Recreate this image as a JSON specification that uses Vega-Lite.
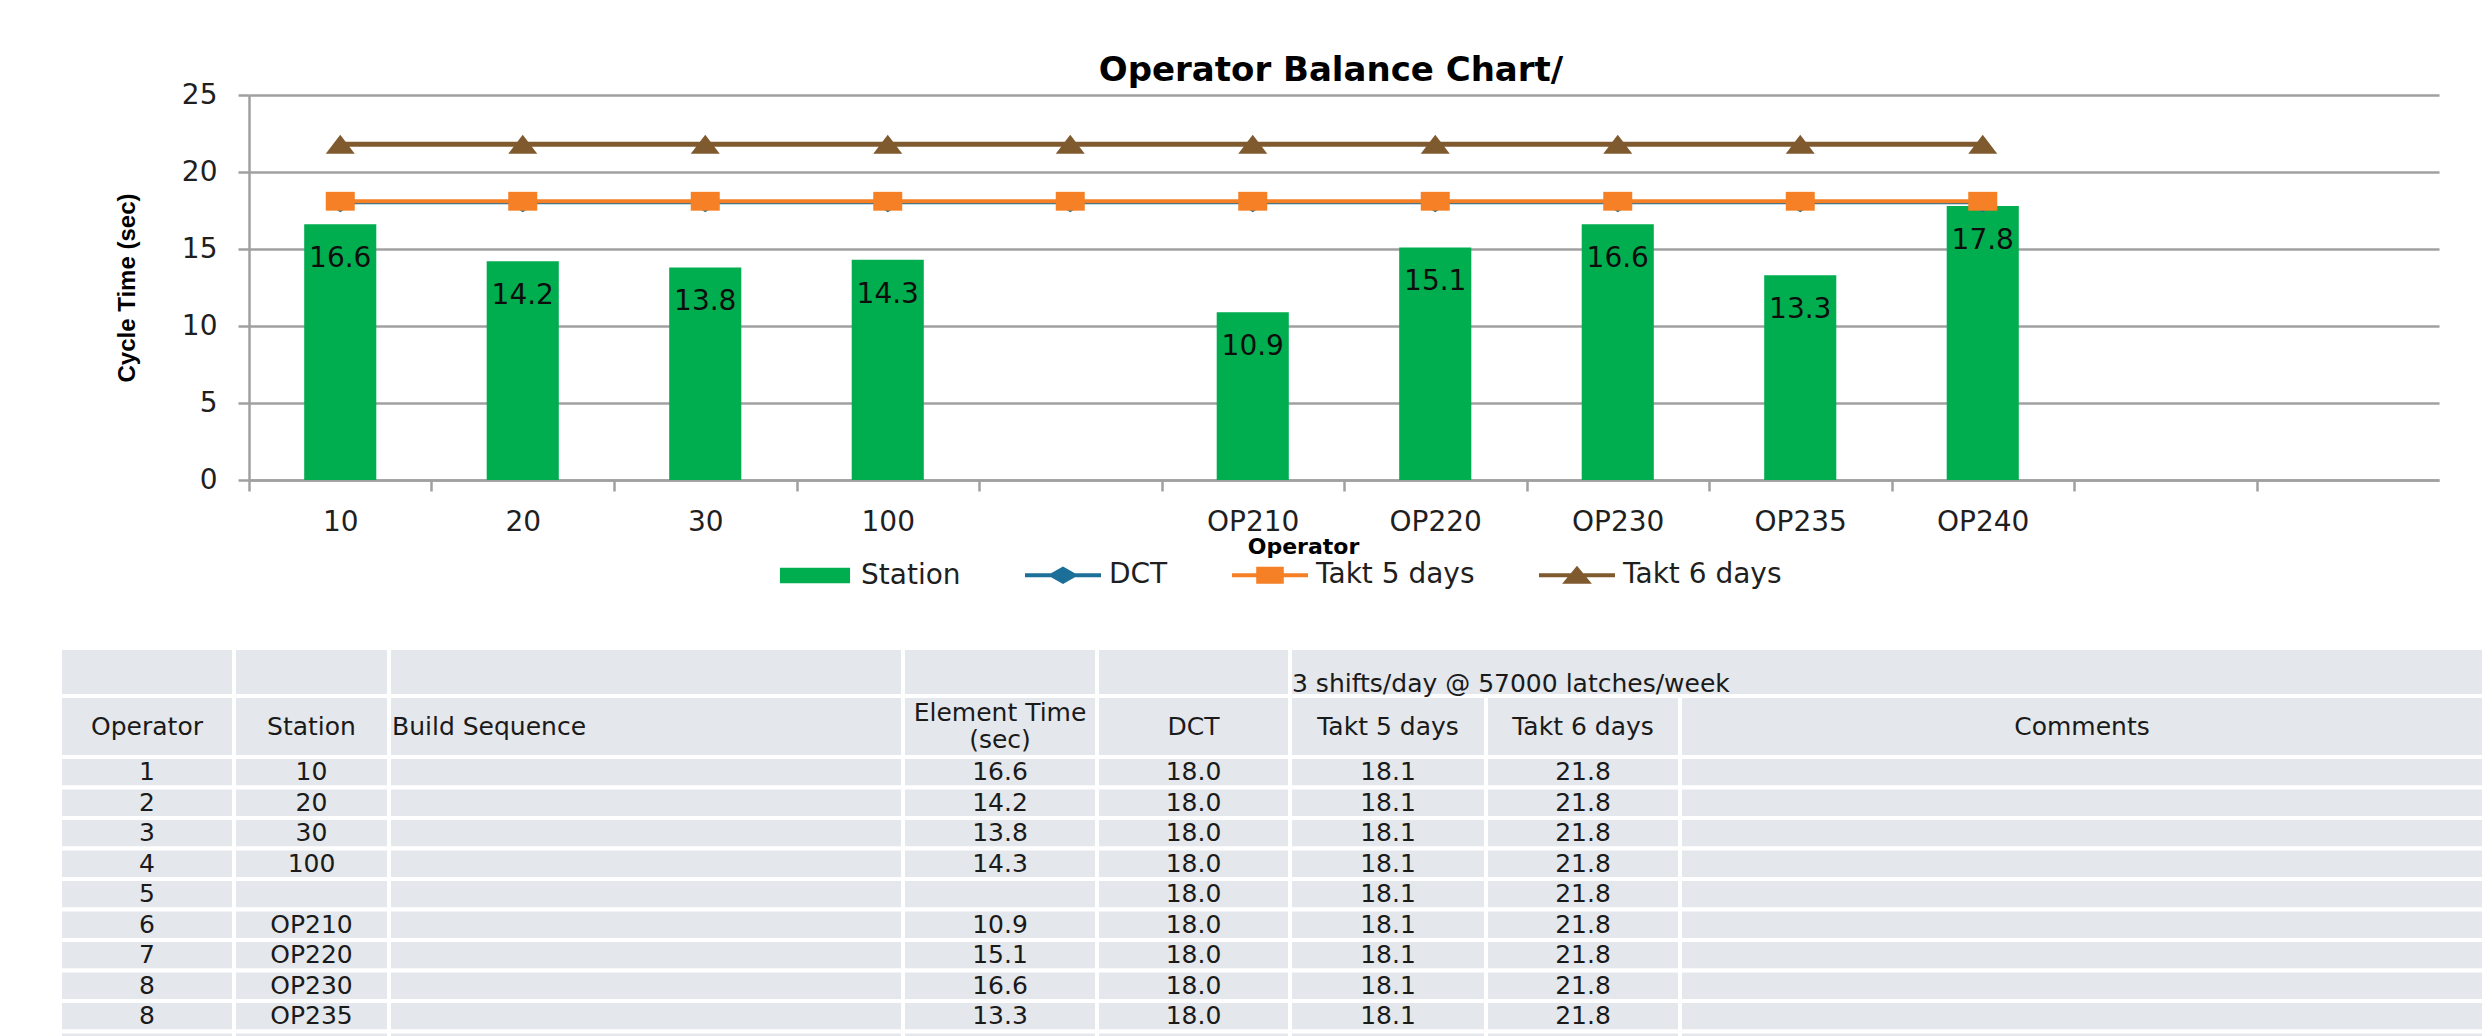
{
  "$schema": "https://vega.github.io/schema/vega-lite/v6.json",
  "background": "white",
  "padding": {"left": 58, "top": 54, "right": 6, "bottom": 0},
  "bounds": "flush",
  "spacing": 168,
  "config": {"view": {"stroke": null}, "legend": {"padding": 0}},
  "datasets": {
    "chart": [
      {"station": "10", "time": 16.6, "DCT": 18.0, "Takt 5 days": 18.1, "Takt 6 days": 21.8},
      {"station": "20", "time": 14.2, "DCT": 18.0, "Takt 5 days": 18.1, "Takt 6 days": 21.8},
      {"station": "30", "time": 13.8, "DCT": 18.0, "Takt 5 days": 18.1, "Takt 6 days": 21.8},
      {"station": "100", "time": 14.3, "DCT": 18.0, "Takt 5 days": 18.1, "Takt 6 days": 21.8},
      {"station": " ", "time": null, "DCT": 18.0, "Takt 5 days": 18.1, "Takt 6 days": 21.8},
      {"station": "OP210", "time": 10.9, "DCT": 18.0, "Takt 5 days": 18.1, "Takt 6 days": 21.8},
      {"station": "OP220", "time": 15.1, "DCT": 18.0, "Takt 5 days": 18.1, "Takt 6 days": 21.8},
      {"station": "OP230", "time": 16.6, "DCT": 18.0, "Takt 5 days": 18.1, "Takt 6 days": 21.8},
      {"station": "OP235", "time": 13.3, "DCT": 18.0, "Takt 5 days": 18.1, "Takt 6 days": 21.8},
      {"station": "OP240", "time": 17.8, "DCT": 18.0, "Takt 5 days": 18.1, "Takt 6 days": 21.8}
    ],
    "cols": [
      {"key": "Operator", "c0": 0, "c1": 1, "cm": 0.5},
      {"key": "Station", "c0": 1, "c1": 2, "cm": 1.5},
      {"key": "Build Sequence", "c0": 2, "c1": 3, "cm": 2.5},
      {"key": "Element Time", "c0": 3, "c1": 4, "cm": 3.5},
      {"key": "DCT", "c0": 4, "c1": 5, "cm": 4.5},
      {"key": "Takt 5 days", "c0": 5, "c1": 6, "cm": 5.5},
      {"key": "Takt 6 days", "c0": 6, "c1": 7, "cm": 6.5},
      {"key": "Comments", "c0": 7, "c1": 8, "cm": 7.5}
    ],
    "head1": [
      {"r0": 0, "r1": 1, "rm": 0.5, "c0": 0, "c1": 1, "text": ""},
      {"r0": 0, "r1": 1, "rm": 0.5, "c0": 1, "c1": 2, "text": ""},
      {"r0": 0, "r1": 1, "rm": 0.5, "c0": 2, "c1": 3, "text": ""},
      {"r0": 0, "r1": 1, "rm": 0.5, "c0": 3, "c1": 4, "text": ""},
      {"r0": 0, "r1": 1, "rm": 0.5, "c0": 4, "c1": 5, "text": ""},
      {"r0": 0, "r1": 1, "rm": 0.5, "c0": 5, "c1": 8, "text": "3 shifts/day @ 57000 latches/week"}
    ],
    "table": [
      {"r0": 1, "r1": 2, "rm": 1.5, "Operator": "Operator", "Station": "Station", "Build Sequence": "Build Sequence", "Element Time": "Element Time\n(sec)", "DCT": "DCT", "Takt 5 days": "Takt 5 days", "Takt 6 days": "Takt 6 days", "Comments": "Comments"},
      {"r0": 2, "r1": 3, "rm": 2.5, "Operator": "1", "Station": "10", "Build Sequence": "", "Element Time": "16.6", "DCT": "18.0", "Takt 5 days": "18.1", "Takt 6 days": "21.8", "Comments": ""},
      {"r0": 3, "r1": 4, "rm": 3.5, "Operator": "2", "Station": "20", "Build Sequence": "", "Element Time": "14.2", "DCT": "18.0", "Takt 5 days": "18.1", "Takt 6 days": "21.8", "Comments": ""},
      {"r0": 4, "r1": 5, "rm": 4.5, "Operator": "3", "Station": "30", "Build Sequence": "", "Element Time": "13.8", "DCT": "18.0", "Takt 5 days": "18.1", "Takt 6 days": "21.8", "Comments": ""},
      {"r0": 5, "r1": 6, "rm": 5.5, "Operator": "4", "Station": "100", "Build Sequence": "", "Element Time": "14.3", "DCT": "18.0", "Takt 5 days": "18.1", "Takt 6 days": "21.8", "Comments": ""},
      {"r0": 6, "r1": 7, "rm": 6.5, "Operator": "5", "Station": "", "Build Sequence": "", "Element Time": "", "DCT": "18.0", "Takt 5 days": "18.1", "Takt 6 days": "21.8", "Comments": ""},
      {"r0": 7, "r1": 8, "rm": 7.5, "Operator": "6", "Station": "OP210", "Build Sequence": "", "Element Time": "10.9", "DCT": "18.0", "Takt 5 days": "18.1", "Takt 6 days": "21.8", "Comments": ""},
      {"r0": 8, "r1": 9, "rm": 8.5, "Operator": "7", "Station": "OP220", "Build Sequence": "", "Element Time": "15.1", "DCT": "18.0", "Takt 5 days": "18.1", "Takt 6 days": "21.8", "Comments": ""},
      {"r0": 9, "r1": 10, "rm": 9.5, "Operator": "8", "Station": "OP230", "Build Sequence": "", "Element Time": "16.6", "DCT": "18.0", "Takt 5 days": "18.1", "Takt 6 days": "21.8", "Comments": ""},
      {"r0": 10, "r1": 11, "rm": 10.5, "Operator": "8", "Station": "OP235", "Build Sequence": "", "Element Time": "13.3", "DCT": "18.0", "Takt 5 days": "18.1", "Takt 6 days": "21.8", "Comments": ""},
      {"r0": 11, "r1": 12, "rm": 11.5, "Operator": "", "Station": "", "Build Sequence": "", "Element Time": "", "DCT": "", "Takt 5 days": "", "Takt 6 days": "", "Comments": ""}
    ]
  },
  "vconcat": [
    {
      "width": 2190,
      "height": 385,
      "title": {"text": "Operator Balance Chart/", "font": "DejaVu Sans", "fontSize": 34, "fontWeight": "bold", "color": "#000000", "frame": "group", "baseline": "alphabetic", "offset": -34, "dx": -13},
      "data": {"name": "chart"},
      "layer": [
        {
          "mark": {"type": "bar", "color": "#00AD4F"},
          "encoding": {
            "x": {"field": "station", "type": "nominal", "sort": null, "title": "Operator",
              "scale": {"type": "band", "domain": ["10", "20", "30", "100", " ", "OP210", "OP220", "OP230", "OP235", "OP240", "  ", "   "], "paddingInner": 0.605, "paddingOuter": 0.3025},
              "axis": {"labelFont": "DejaVu Sans", "labelFontSize": 28, "labelColor": "#1F1F1F", "labelAngle": 0, "labelPadding": 17,
                "tickOffset": -91.25, "labelOffset": 91.25, "ticks": true, "tickSize": 11, "tickColor": "#A0A0A0", "tickWidth": 2.5,
                "domainColor": "#A0A0A0", "domainWidth": 2.5, "grid": false,
                "titleFont": "DejaVu Sans", "titleFontSize": 22, "titleFontWeight": "bold", "titleColor": "#000000", "titlePadding": 0, "titleX": 1054}},
            "y": {"field": "time", "type": "quantitative", "title": "Cycle Time (sec)",
              "scale": {"domain": [0, 25], "nice": false, "zero": true},
              "axis": {"values": [0, 5, 10, 15, 20, 25], "grid": true, "gridColor": "#A0A0A0", "gridWidth": 2.5,
                "domainColor": "#A0A0A0", "domainWidth": 2.5, "ticks": true, "tickSize": 11, "tickColor": "#A0A0A0", "tickWidth": 2.5,
                "labelFont": "DejaVu Sans", "labelFontSize": 28, "labelColor": "#1F1F1F", "labelPadding": 21,
                "titleFont": "Liberation Sans", "titleFontSize": 24, "titleFontWeight": "bold", "titleColor": "#000000", "titlePadding": 42}}
          }
        },
        {
          "transform": [{"filter": "datum.time != null"}],
          "mark": {"type": "text", "font": "DejaVu Sans", "fontSize": 28, "color": "#0D0D0D", "baseline": "middle", "dy": 35},
          "encoding": {
            "x": {"field": "station", "type": "nominal", "sort": null, "title": "Operator"},
            "y": {"field": "time", "type": "quantitative", "title": "Cycle Time (sec)"},
            "text": {"field": "time", "type": "quantitative", "format": ".1f"}
          }
        },
        {
          "mark": {"type": "line", "color": "#1B6F98", "strokeWidth": 3},
          "encoding": {
            "x": {"field": "station", "type": "nominal", "sort": null, "title": "Operator"},
            "y": {"field": "DCT", "type": "quantitative", "title": "Cycle Time (sec)"}
          }
        },
        {
          "mark": {"type": "line", "color": "#F58025", "strokeWidth": 4},
          "encoding": {
            "x": {"field": "station", "type": "nominal", "sort": null, "title": "Operator"},
            "y": {"field": "Takt 5 days", "type": "quantitative", "title": "Cycle Time (sec)"}
          }
        },
        {
          "mark": {"type": "line", "color": "#7F5A2E", "strokeWidth": 5},
          "encoding": {
            "x": {"field": "station", "type": "nominal", "sort": null, "title": "Operator"},
            "y": {"field": "Takt 6 days", "type": "quantitative", "title": "Cycle Time (sec)"}
          }
        },
        {
          "mark": {"type": "point", "filled": true, "opacity": 1, "size": 841, "shape": "M-1,0L0,-0.65L1,0L0,0.65Z", "color": "#1B6F98"},
          "encoding": {
            "x": {"field": "station", "type": "nominal", "sort": null, "title": "Operator"},
            "y": {"field": "DCT", "type": "quantitative", "title": "Cycle Time (sec)"}
          }
        },
        {
          "mark": {"type": "point", "filled": true, "opacity": 1, "size": 841, "shape": "M-1,-0.65H1V0.65H-1Z", "color": "#F58025"},
          "encoding": {
            "x": {"field": "station", "type": "nominal", "sort": null, "title": "Operator"},
            "y": {"field": "Takt 5 days", "type": "quantitative", "title": "Cycle Time (sec)"}
          }
        },
        {
          "mark": {"type": "point", "filled": true, "opacity": 1, "size": 841, "shape": "M-1,0.65L0,-0.65L1,0.65Z", "color": "#7F5A2E"},
          "encoding": {
            "x": {"field": "station", "type": "nominal", "sort": null, "title": "Operator"},
            "y": {"field": "Takt 6 days", "type": "quantitative", "title": "Cycle Time (sec)"}
          }
        },
        {
          "transform": [
            {"fold": ["DCT", "Takt 5 days", "Takt 6 days"], "as": ["key", "value"]},
            {"filter": "datum.key === 'Station'"}
          ],
          "mark": {"type": "point", "filled": true, "opacity": 1, "strokeWidth": 4},
          "encoding": {
            "x": {"field": "station", "type": "nominal", "sort": null, "title": "Operator"},
            "y": {"field": "value", "type": "quantitative", "title": "Cycle Time (sec)"},
            "color": {"field": "key", "type": "nominal",
              "scale": {"domain": ["Station", "DCT", "Takt 5 days", "Takt 6 days"], "range": ["#00AD4F", "#1B6F98", "#F58025", "#7F5A2E"]},
              "legend": {"orient": "none", "legendX": 526, "legendY": 440, "direction": "horizontal", "columns": 4, "title": null,
                "labelFont": "DejaVu Sans", "labelFontSize": 28, "labelColor": "#1F1F1F", "symbolSize": 5776, "symbolStrokeWidth": 4, "symbolOpacity": 1, "labelOffset": 6, "columnPadding": 56, "padding": 0}},
            "stroke": {"field": "key", "type": "nominal",
              "scale": {"domain": ["Station", "DCT", "Takt 5 days", "Takt 6 days"], "range": ["#00AD4F", "#1B6F98", "#F58025", "#7F5A2E"]},
              "legend": {"orient": "none", "legendX": 526, "legendY": 440, "direction": "horizontal", "columns": 4, "title": null,
                "labelFont": "DejaVu Sans", "labelFontSize": 28, "labelColor": "#1F1F1F", "symbolSize": 5776, "symbolStrokeWidth": 4, "symbolOpacity": 1, "labelOffset": 6, "columnPadding": 56, "padding": 0}},
            "shape": {"field": "key", "type": "nominal",
              "scale": {"domain": ["Station", "DCT", "Takt 5 days", "Takt 6 days"], "range": ["M-0.87,-0.15H0.87V0.15H-0.87Z", "M-1,0H1M-0.3,0L0,-0.17L0.3,0L0,0.17Z", "M-1,0H1M-0.31,-0.17H0.31V0.17H-0.31Z", "M-1,0H1M-0.28,0.17L0,-0.17L0.28,0.17Z"]},
              "legend": {"orient": "none", "legendX": 526, "legendY": 440, "direction": "horizontal", "columns": 4, "title": null,
                "labelFont": "DejaVu Sans", "labelFontSize": 28, "labelColor": "#1F1F1F", "symbolSize": 5776, "symbolStrokeWidth": 4, "symbolOpacity": 1, "labelOffset": 6, "columnPadding": 56, "padding": 0}}
          }
        }
      ]
    },
    {
      "width": 2235,
      "height": 414,
      "layer": [
        {
          "data": {"name": "table"},
          "transform": [
            {"fold": ["Operator", "Station", "Build Sequence", "Element Time", "DCT", "Takt 5 days", "Takt 6 days", "Comments"], "as": ["key", "value"]},
            {"lookup": "key", "from": {"data": {"name": "cols"}, "key": "key", "fields": ["c0", "c1", "cm"]}}
          ],
          "mark": {"type": "rect", "fill": "#E4E7EC", "stroke": "#FFFFFF", "strokeWidth": 4},
          "encoding": {
            "x": {"field": "c0", "type": "quantitative", "axis": null, "scale": {"domain": [0, 1, 2, 3, 4, 5, 6, 7, 8], "range": [-189, -15, 140, 654, 848, 1041, 1237, 1431, 2235], "zero": false, "nice": false}},
            "x2": {"field": "c1"},
            "y": {"field": "r0", "type": "quantitative", "axis": null, "scale": {"domain": [0, 1, 2, 3, 4, 5, 6, 7, 8, 9, 10, 11, 12], "range": [0, 48, 109, 139.5, 170, 200.5, 231, 261.5, 292, 322.5, 353, 383.5, 414], "zero": false, "nice": false}},
            "y2": {"field": "r1"}
          }
        },
        {
          "data": {"name": "head1"},
          "mark": {"type": "rect", "fill": "#E4E7EC", "stroke": "#FFFFFF", "strokeWidth": 4},
          "encoding": {
            "x": {"field": "c0", "type": "quantitative", "axis": null},
            "x2": {"field": "c1"},
            "y": {"field": "r0", "type": "quantitative", "axis": null},
            "y2": {"field": "r1"}
          }
        },
        {
          "data": {"name": "head1"},
          "transform": [{"filter": "datum.text !== ''"}],
          "mark": {"type": "text", "font": "DejaVu Sans", "fontSize": 25, "color": "#1A1A1A", "align": "left", "baseline": "middle", "dx": 2, "dy": 12},
          "encoding": {
            "x": {"field": "c0", "type": "quantitative", "axis": null},
            "y": {"field": "rm", "type": "quantitative", "axis": null},
            "text": {"field": "text", "type": "nominal"}
          }
        },
        {
          "data": {"name": "table"},
          "transform": [
            {"fold": ["Operator", "Station", "Element Time", "DCT", "Takt 5 days", "Takt 6 days", "Comments"], "as": ["key", "value"]},
            {"lookup": "key", "from": {"data": {"name": "cols"}, "key": "key", "fields": ["c0", "c1", "cm"]}},
            {"filter": "datum.value !== '' && !(datum.r0 === 1 && datum.key === 'Element Time')"}
          ],
          "mark": {"type": "text", "font": "DejaVu Sans", "fontSize": 25, "color": "#1A1A1A", "align": "center", "baseline": "middle"},
          "encoding": {
            "x": {"field": "cm", "type": "quantitative", "axis": null},
            "y": {"field": "rm", "type": "quantitative", "axis": null},
            "text": {"field": "value", "type": "nominal"}
          }
        },
        {
          "data": {"name": "table"},
          "transform": [
            {"filter": "datum.r0 === 1"},
            {"fold": ["Element Time"], "as": ["key", "value"]},
            {"lookup": "key", "from": {"data": {"name": "cols"}, "key": "key", "fields": ["c0", "c1", "cm"]}}
          ],
          "mark": {"type": "text", "font": "DejaVu Sans", "fontSize": 25, "color": "#1A1A1A", "align": "center", "baseline": "middle", "lineBreak": "\n", "lineHeight": 27, "dy": -13.5},
          "encoding": {
            "x": {"field": "cm", "type": "quantitative", "axis": null},
            "y": {"field": "rm", "type": "quantitative", "axis": null},
            "text": {"field": "value", "type": "nominal"}
          }
        },
        {
          "data": {"name": "table"},
          "transform": [
            {"fold": ["Build Sequence"], "as": ["key", "value"]},
            {"lookup": "key", "from": {"data": {"name": "cols"}, "key": "key", "fields": ["c0", "c1", "cm"]}},
            {"filter": "datum.value !== ''"}
          ],
          "mark": {"type": "text", "font": "DejaVu Sans", "fontSize": 25, "color": "#1A1A1A", "align": "left", "baseline": "middle", "dx": 3},
          "encoding": {
            "x": {"field": "c0", "type": "quantitative", "axis": null},
            "y": {"field": "rm", "type": "quantitative", "axis": null},
            "text": {"field": "value", "type": "nominal"}
          }
        }
      ]
    }
  ]
}
